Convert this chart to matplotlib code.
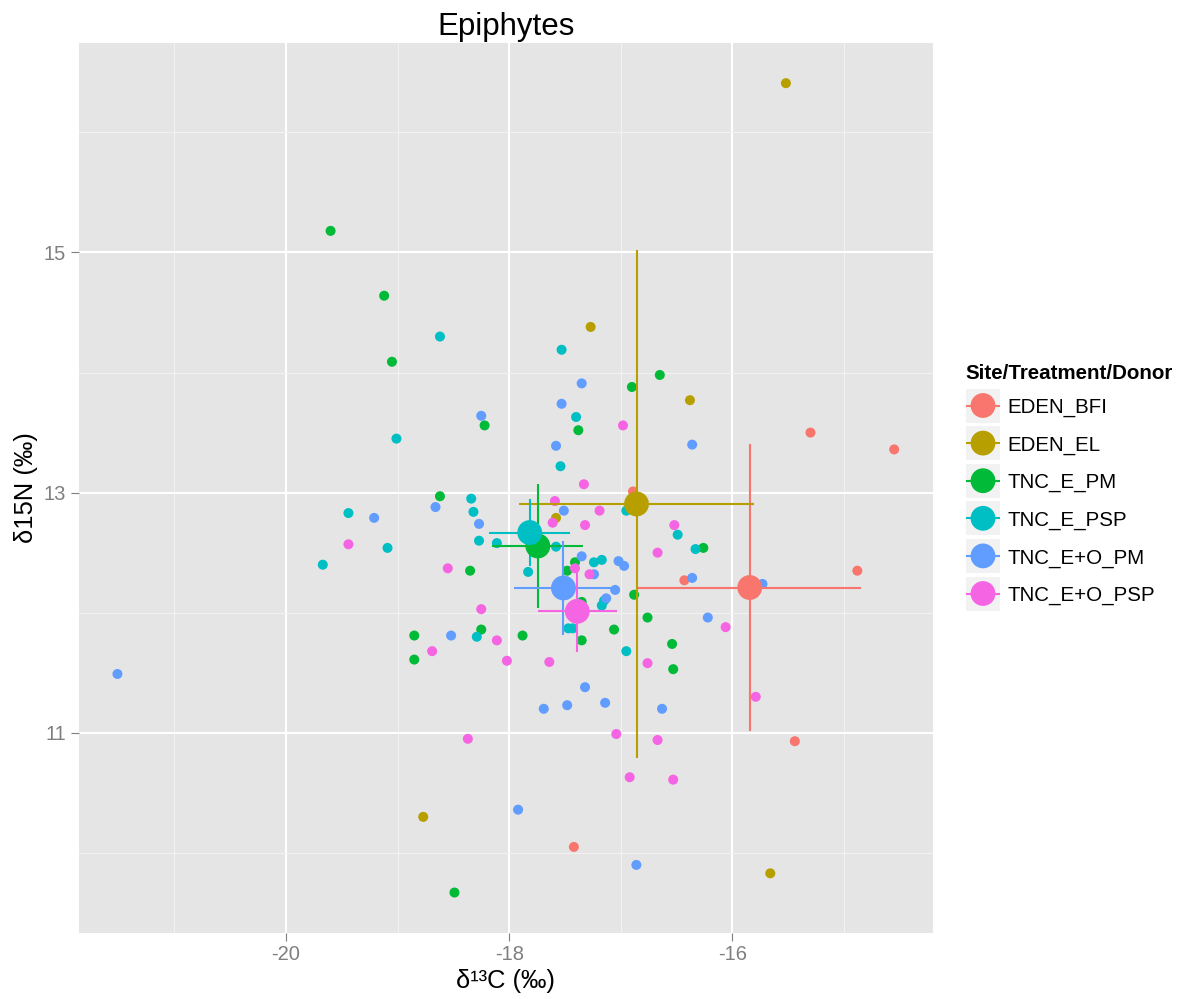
import numpy as np
import matplotlib
matplotlib.use("Agg")
import matplotlib.pyplot as plt
from matplotlib.patches import Rectangle, Circle
from matplotlib.lines import Line2D
from math import gamma

plt.rcParams['font.family'] = ['Liberation Sans', 'DejaVu Sans']

# ---- data: delta13C / delta15N of epiphytes by site/treatment/donor ----
groups = ["EDEN_BFI", "EDEN_EL", "TNC_E_PM", "TNC_E_PSP", "TNC_E+O_PM", "TNC_E+O_PSP"]
colors = ["#F8766D", "#B79F00", "#00BA38", "#00BFC4", "#619CFF", "#F564E3"]

c13_eden_bfi = [-15.30, -14.55, -14.88, -16.43, -15.44, -17.42, -16.89]
n15_eden_bfi = [13.50, 13.36, 12.35, 12.27, 10.93, 10.05, 13.01]

c13_eden_el = [-15.52, -16.38, -17.27, -17.58, -18.77, -15.66, -16.83]
n15_eden_el = [16.41, 13.77, 14.38, 12.79, 10.30, 9.83, 12.86]

c13_tnc_e_pm = [-19.60, -19.12, -19.05, -18.22, -16.65, -16.90, -17.38, -18.62,
                -18.35, -18.25, -18.85, -18.85, -18.49, -17.41, -17.48, -17.35,
                -17.88, -17.35, -17.06, -16.88, -16.76, -16.54, -16.53, -16.26]
n15_tnc_e_pm = [15.18, 14.64, 14.09, 13.56, 13.98, 13.88, 13.52, 12.97,
                12.35, 11.86, 11.81, 11.61, 9.67, 12.42, 12.35, 12.09,
                11.81, 11.77, 11.86, 12.15, 11.96, 11.74, 11.53, 12.54]

c13_tnc_e_psp = [-18.62, -19.01, -17.53, -17.40, -17.54, -19.44, -19.09, -19.67,
                 -18.34, -18.32, -18.27, -18.11, -17.83, -18.29, -17.58, -17.24,
                 -17.17, -17.17, -17.15, -17.47, -17.43, -16.95, -16.49, -16.33,
                 -16.95]
n15_tnc_e_psp = [14.30, 13.45, 14.19, 13.63, 13.22, 12.83, 12.54, 12.40,
                 12.95, 12.84, 12.60, 12.58, 12.34, 11.80, 12.55, 12.42,
                 12.44, 12.06, 12.10, 11.87, 11.87, 11.68, 12.65, 12.53,
                 12.85]

c13_tnc_eo_pm = [-21.51, -19.21, -18.66, -18.27, -18.52, -18.25, -17.35, -17.53,
                 -17.58, -16.36, -17.51, -17.35, -17.24, -17.02, -16.97, -17.05,
                 -17.13, -16.36, -16.22, -15.73, -17.32, -17.69, -17.48, -17.14,
                 -16.63, -17.92, -16.86]
n15_tnc_eo_pm = [11.49, 12.79, 12.88, 12.74, 11.81, 13.64, 13.91, 13.74,
                 13.39, 13.40, 12.85, 12.47, 12.32, 12.43, 12.39, 12.19,
                 12.12, 12.29, 11.96, 12.24, 11.38, 11.20, 11.23, 11.25,
                 11.20, 10.36, 9.90]

c13_tnc_eo_psp = [-19.44, -18.55, -18.25, -18.69, -18.11, -18.02, -18.37, -17.64,
                  -17.33, -16.98, -17.59, -17.61, -17.19, -17.32, -17.41, -17.28,
                  -16.67, -16.52, -16.06, -16.76, -15.79, -17.04, -16.67, -16.92,
                  -16.53]
n15_tnc_eo_psp = [12.57, 12.37, 12.03, 11.68, 11.77, 11.60, 10.95, 11.59,
                  13.07, 13.56, 12.93, 12.75, 12.85, 12.73, 12.37, 12.32,
                  12.50, 12.73, 11.88, 11.58, 11.30, 10.99, 10.94, 10.63,
                  10.61]

c13 = [c13_eden_bfi, c13_eden_el, c13_tnc_e_pm, c13_tnc_e_psp, c13_tnc_eo_pm, c13_tnc_eo_psp]
n15 = [n15_eden_bfi, n15_eden_el, n15_tnc_e_pm, n15_tnc_e_psp, n15_tnc_eo_pm, n15_tnc_eo_psp]

x_major = [-20, -18, -16]
x_minor = [-21, -19, -17, -15]
y_major = [11, 13, 15]
y_minor = [10, 12, 14, 16]


def t_quantile(df, level=0.95):
    """Two-sided critical value of Student's t, by integrating its density."""
    grid = np.linspace(0.0, 30.0, 300001)
    const = gamma((df + 1) / 2) / (np.sqrt(df * np.pi) * gamma(df / 2))
    pdf = const * (1 + grid ** 2 / df) ** (-(df + 1) / 2)
    cdf = np.concatenate([[0.0], np.cumsum((pdf[1:] + pdf[:-1]) / 2 * np.diff(grid))])
    return float(np.interp(level / 2, cdf, grid))


def mean_ci(values):
    v = np.asarray(values, float)
    n = v.size
    half = t_quantile(n - 1) * v.std(ddof=1) / np.sqrt(n)
    return v.mean(), half


W, H = 1189, 999
fig = plt.figure(figsize=(W / 100, H / 100), dpi=100)
fig.patch.set_facecolor("white")

px_l, px_r, px_t, px_b = 78.6, 933.0, 42.7, 933.0
ax = fig.add_axes([px_l / W, 1 - px_b / H, (px_r - px_l) / W, (px_b - px_t) / H])
ax.set_facecolor("#E5E5E5")
for s in ax.spines.values():
    s.set_visible(False)

summ = []
for xs, ys, col in zip(c13, n15, colors):
    ax.scatter(xs, ys, s=52, color=col, edgecolors="none", zorder=3)
    mx, hx = mean_ci(xs)
    my, hy = mean_ci(ys)
    summ.append((mx, hx, my, hy, col))

for mx, hx, my, hy, col in summ:
    ax.plot([mx - hx, mx + hx], [my, my], color=col, lw=1.5, zorder=4, solid_capstyle="butt")
    ax.plot([mx, mx], [my - hy, my + hy], color=col, lw=1.5, zorder=4, solid_capstyle="butt")
for mx, hx, my, hy, col in summ:
    ax.scatter([mx], [my], s=320, color=col, edgecolors="none", zorder=5)

# axis ranges: data extent plus 5% on each side
all_x = np.concatenate([np.asarray(v) for v in c13] +
                       [[m - h, m + h] for m, h, _, _, _ in summ])
all_y = np.concatenate([np.asarray(v) for v in n15] +
                       [[m - h, m + h] for _, _, m, h, _ in summ])
rx = all_x.max() - all_x.min()
ry = all_y.max() - all_y.min()
ax.set_xlim(all_x.min() - 0.05 * rx, all_x.max() + 0.05 * rx)
ax.set_ylim(all_y.min() - 0.05 * ry, all_y.max() + 0.05 * ry)

ax.set_xticks(x_major)
ax.set_xticks(x_minor, minor=True)
ax.set_yticks(y_major)
ax.set_yticks(y_minor, minor=True)
ax.set_xticklabels([str(v) for v in x_major])
ax.set_yticklabels([str(v) for v in y_major])
ax.grid(which="major", color="white", lw=1.5, zorder=0)
ax.grid(which="minor", color="#F2F2F2", lw=0.8, zorder=0)
ax.set_axisbelow(True)
ax.tick_params(which="major", length=6, width=0.8, color="#7F7F7F",
               labelcolor="#7F7F7F", labelsize=14.5, pad=3)
ax.tick_params(which="minor", length=0)

# titles
cx = (px_l + px_r) / 2 / W
fig.text(cx, 1 - 35 / H, "Epiphytes", ha="center", va="baseline", fontsize=22.5)
fig.text(cx, 1 - 988 / H, "δ¹³C (‰)", ha="center", va="baseline", fontsize=18.4)
fig.text(26 / W, 1 - (px_t + px_b) / 2 / H, "δ15N (‰)", ha="center", va="center",
         rotation=90, fontsize=18.4)

# legend
ov = fig.add_axes([0, 0, 1, 1], zorder=10)
ov.set_xlim(0, W)
ov.set_ylim(H, 0)
ov.axis("off")
ov.text(965, 379, "Site/Treatment/Donor", ha="left", va="baseline",
        fontsize=14.8, fontweight="bold")
for i, (name, col) in enumerate(zip(groups, colors)):
    cy = 405.5 + i * 37.6
    ov.add_patch(Rectangle((966, cy - 17), 34, 34, facecolor="#F2F2F2", edgecolor="none"))
    ov.add_line(Line2D([966, 1000], [cy, cy], color=col, lw=1.5, solid_capstyle="butt"))
    ov.add_patch(Circle((983, cy), 12.4, facecolor=col, edgecolor="none"))
    ov.text(1007, cy, name, ha="left", va="center_baseline", fontsize=14.8)

fig.savefig("out.png", dpi=100)
